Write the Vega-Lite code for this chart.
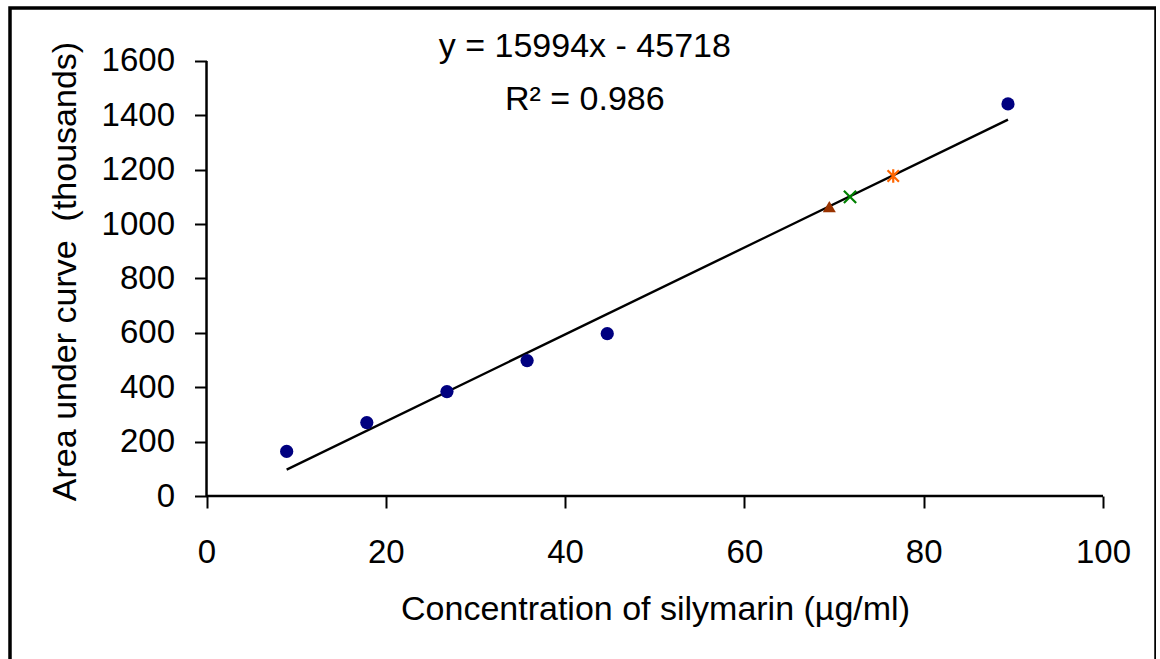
{
  "$schema": "https://vega.github.io/schema/vega-lite/v6.json",
  "width": 1146,
  "height": 656,
  "autosize": {"type": "none"},
  "padding": {"left": 10, "top": 8, "right": 0, "bottom": 0},
  "background": "white",
  "config": {
    "view": {"stroke": "black", "strokeWidth": 3.5, "fill": "white"},
    "font": "Liberation Sans",
    "axis": {
      "domain": false,
      "grid": false,
      "tickColor": "black",
      "tickWidth": 2,
      "tickSize": 12,
      "labelFont": "Liberation Sans",
      "labelFontSize": 33,
      "labelColor": "black",
      "labelOverlap": false,
      "labelFlush": false,
      "titleFont": "Liberation Sans",
      "titleFontSize": 34,
      "titleFontWeight": "normal",
      "titleColor": "black"
    }
  },
  "datasets": {
    "axes": [
      {"x": 0, "y": 0, "x2": 0, "y2": 1600},
      {"x": 0, "y": 0, "x2": 100, "y2": 0}
    ],
    "trend": [
      {"conc": 8.94, "area": 97.3},
      {"conc": 89.4, "area": 1384.2}
    ],
    "points": [
      {"series": "standard", "conc": 8.94, "area": 164},
      {"series": "standard", "conc": 17.88, "area": 270},
      {"series": "standard", "conc": 26.82, "area": 384},
      {"series": "standard", "conc": 35.76, "area": 498},
      {"series": "standard", "conc": 44.7, "area": 597},
      {"series": "standard", "conc": 89.4, "area": 1442},
      {"series": "sample1", "conc": 69.47, "area": 1064},
      {"series": "sample2", "conc": 71.78, "area": 1100},
      {"series": "sample3", "conc": 76.6, "area": 1177}
    ],
    "labels": [
      {"text": "y = 15994x - 45718", "conc": 42.2, "area": 1651},
      {"text": "R² = 0.986", "conc": 42.2, "area": 1456}
    ]
  },
  "encoding": {
    "x": {
      "field": "conc",
      "type": "quantitative",
      "scale": {"domain": [-21.92, 105.91], "nice": false, "zero": false},
      "axis": {
        "orient": "bottom",
        "offset": -168,
        "values": [0, 20, 40, 60, 80, 100],
        "format": "d",
        "labelPadding": 28,
        "title": "Concentration of silymarin (µg/ml)",
        "titleX": 645,
        "titleY": 113,
        "titleBaseline": "middle"
      }
    },
    "y": {
      "field": "area",
      "type": "quantitative",
      "scale": {"domain": [-617.9, 1794.9], "nice": false, "zero": false},
      "axis": {
        "orient": "left",
        "offset": -196.5,
        "values": [0, 200, 400, 600, 800, 1000, 1200, 1400, 1600],
        "format": "d",
        "labelPadding": 20,
        "title": "Area under curve\u00a0 (thousands)",
        "titleX": -141.5,
        "titleY": 263,
        "titleBaseline": "middle"
      }
    }
  },
  "layer": [
    {
      "data": {"name": "axes"},
      "mark": {"type": "rule", "color": "black", "strokeWidth": 2.5},
      "encoding": {
        "x": {"field": "x", "type": "quantitative"},
        "y": {"field": "y", "type": "quantitative"},
        "x2": {"field": "x2"},
        "y2": {"field": "y2"}
      }
    },
    {
      "data": {"name": "trend"},
      "mark": {"type": "line", "color": "black", "strokeWidth": 2.4},
      "encoding": {}
    },
    {
      "data": {"name": "points"},
      "transform": [{"filter": "datum.series === 'standard'"}],
      "mark": {"type": "point", "shape": "circle", "filled": true, "color": "#000080", "size": 175, "opacity": 1},
      "encoding": {}
    },
    {
      "data": {"name": "points"},
      "transform": [{"filter": "datum.series === 'sample1'"}],
      "mark": {"type": "point", "shape": "triangle-up", "filled": true, "color": "#993300", "size": 170, "opacity": 1},
      "encoding": {}
    },
    {
      "data": {"name": "points"},
      "transform": [{"filter": "datum.series === 'sample2'"}],
      "mark": {"type": "point", "shape": "M-1,-1L1,1M-1,1L1,-1", "filled": false, "color": "#008000", "strokeWidth": 2.2, "size": 150, "opacity": 1},
      "encoding": {}
    },
    {
      "data": {"name": "points"},
      "transform": [{"filter": "datum.series === 'sample3'"}],
      "mark": {"type": "point", "shape": "M-1,-1L1,1M-1,1L1,-1M0,-1.2L0,1.2", "filled": false, "color": "#FF6600", "strokeWidth": 2.2, "size": 130, "opacity": 1},
      "encoding": {}
    },
    {
      "data": {"name": "labels"},
      "mark": {"type": "text", "font": "Liberation Sans", "fontSize": 34, "color": "black", "align": "center", "baseline": "middle"},
      "encoding": {"text": {"field": "text"}}
    }
  ]
}
